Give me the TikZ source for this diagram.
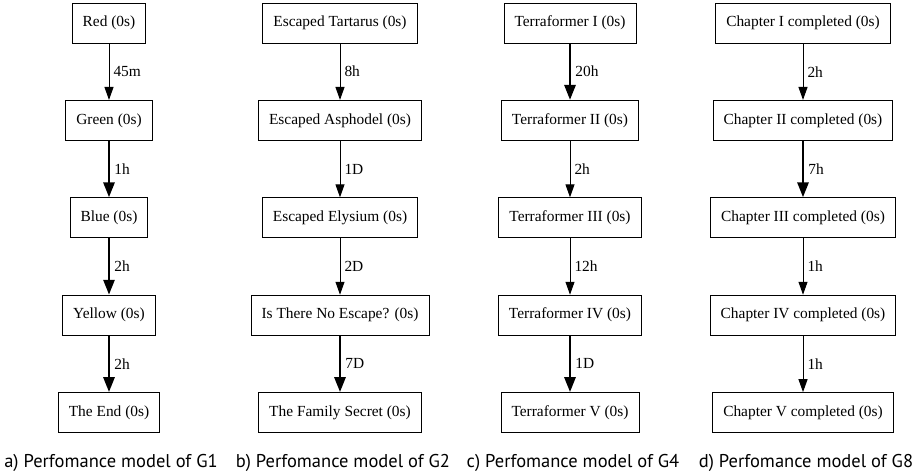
\documentclass[tikz,border=0pt]{standalone}
\usepackage{fontspec}
\setmainfont{Liberation Serif}
\newfontfamily\capfont{PT Sans}
\usetikzlibrary{arrows.meta,positioning}

\tikzset{
  state/.style={draw, line width=0.9pt, rectangle, minimum height=40pt, inner xsep=10.5pt, font=\fontsize{15.4}{18}\selectfont},
  thinarr/.style={-{Triangle[length=13pt,width=9pt]}, line width=1pt},
  thickarr/.style={-{Triangle[length=15pt,width=11pt]}, line width=2.8pt},
  lbl/.style={right, inner sep=4pt, font=\fontsize{15.4}{18}\selectfont},
  caption/.style={font=\capfont\fontsize{18.5}{22}\selectfont}
}

\begin{document}
\begin{tikzpicture}[x=1pt,y=-1pt]
\useasboundingbox (0,0) rectangle (923,476);
% a) G1
\foreach \t [count=\i] in {Red,Green,Blue,Yellow,The End}
  \node[state] (a\i) at (109,{23+97.4*(\i-1)}) {\t{} (0s)};
\foreach \i/\j/\l/\w in {1/2/45m/thinarr,2/3/1h/thickarr,3/4/2h/thickarr,4/5/2h/thickarr}
  \draw[\w] (a\i) -- node[lbl] {\l} (a\j);
% b) G2
\foreach \t [count=\i] in {Escaped Tartarus,Escaped Asphodel,Escaped Elysium,Is There No Escape?,The Family Secret}
  \node[state] (b\i) at (340,{23+97.4*(\i-1)}) {\t{} (0s)};
\foreach \i/\j/\l/\w in {1/2/8h/thinarr,2/3/1D/thinarr,3/4/2D/thinarr,4/5/7D/thickarr}
  \draw[\w] (b\i) -- node[lbl] {\l} (b\j);
% c) G4
\foreach \t [count=\i] in {I,II,III,IV,V}
  \node[state] (c\i) at (570,{23+97.4*(\i-1)}) {Terraformer \t{} (0s)};
\foreach \i/\j/\l/\w in {1/2/20h/thickarr,2/3/2h/thinarr,3/4/12h/thinarr,4/5/1D/thickarr}
  \draw[\w] (c\i) -- node[lbl] {\l} (c\j);
% d) G8
\foreach \t [count=\i] in {I,II,III,IV,V}
  \node[state] (d\i) at (803,{23+97.4*(\i-1)}) {Chapter \t{} completed (0s)};
\foreach \i/\j/\l/\w in {1/2/2h/thinarr,2/3/7h/thickarr,3/4/1h/thinarr,4/5/1h/thinarr}
  \draw[\w] (d\i) -- node[lbl] {\l} (d\j);
% captions
\node[caption] (capa) at (111,463) {a) Perfomance model of G1};
\node[caption] (capb) at (343,463) {b) Perfomance model of G2};
\node[caption] (capc) at (573,463) {c) Perfomance model of G4};
\node[caption] (capd) at (806,463) {d) Perfomance model of G8};
\end{tikzpicture}
\end{document}
